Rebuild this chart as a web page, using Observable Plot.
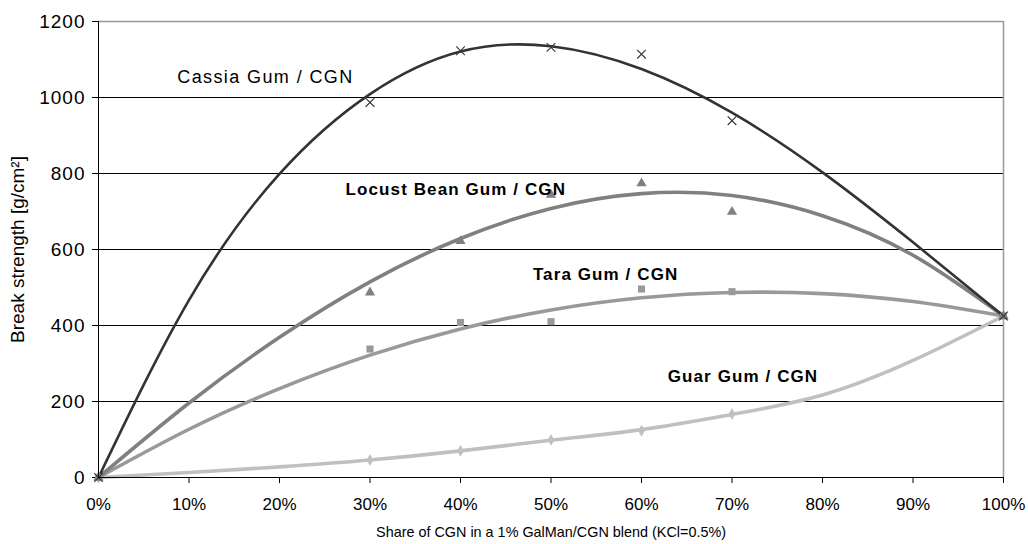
<!DOCTYPE html>
<html><head><meta charset="utf-8">
<script src="https://cdn.jsdelivr.net/npm/d3@7"></script>
<script src="https://cdn.jsdelivr.net/npm/@observablehq/plot@0.6"></script>
<style>body{margin:0;background:#fff;} svg{display:block}</style>
</head><body><div id="chart"></div>
<script>
// measured points (share of CGN %, break strength g/cm²)
const shares = [0, 30, 40, 50, 60, 70, 100];
const cassia = [0, 987, 1123, 1132, 1114, 939, 425];
const locust = [0, 487, 622, 744, 774, 699, 425];
const tara   = [0, 338, 408, 410, 496, 489, 425];
const guar   = [0, 46, 70, 99, 123, 167, 425];

// trend lines at 10% steps
const trendShares = [0, 10, 20, 30, 40, 50, 60, 70, 80, 90, 100];
const cassiaTrend = [0, 467, 799, 1009, 1121, 1135, 1075, 960, 803, 619, 425];
const locustTrend = [0, 196, 369, 515, 629, 708, 747, 742, 689, 585, 425];
const taraTrend   = [0, 127, 234, 322, 391, 441, 473, 487, 484, 463, 425];
const guarTrend   = [0, 13, 28, 46, 70, 98, 126, 166, 217, 308, 425];

const seriesNames = ["Cassia Gum / CGN", "Locust Bean Gum / CGN", "Tara Gum / CGN", "Guar Gum / CGN"];
const labelShare = [8.7, 27.3, 48.0, 62.9];
const labelValue = [1053, 757, 535, 265];

const xTicks = [0, 10, 20, 30, 40, 50, 60, 70, 80, 90, 100];
const yTicks = [0, 200, 400, 600, 800, 1000, 1200];
const gridY = [200, 400, 600, 800, 1000];
const xTitle = "Share of CGN in a 1% GalMan/CGN blend (KCl=0.5%)";
const yTitle = "Break strength [g/cm²]";

const pointSets = [cassia, locust, tara, guar];
const trendSets = [cassiaTrend, locustTrend, taraTrend, guarTrend];

const colors = ["#333333", "#808080", "#999999", "#c0c0c0"];
const widths = [2.6, 3.6, 3.6, 3.6];
const symbols = ["times", "triangle", "square", "diamond"];
const radii = [4, 3.8, 4, 3.6];

const trendRows = trendSets.map((arr, s) => arr.map((v, i) => ({s, x: trendShares[i], y: v})));
const pointRows = pointSets.map((arr, s) => arr.map((v, i) => ({s, x: shares[i], y: v})));
const labelRows = seriesNames.map((t, i) => ({t, x: labelShare[i], y: labelValue[i]}));

const lineMarks = [3, 2, 1, 0].map(s => Plot.line(trendRows[s], {x: "x", y: "y", curve: "natural", stroke: colors[s], strokeWidth: widths[s]}));
const dotMarks = [3, 2, 1, 0].map(s => s === 0
  ? Plot.dot(pointRows[s], {x: "x", y: "y", symbol: symbols[s], r: radii[s], stroke: colors[s], strokeWidth: 1.1})
  : Plot.dot(pointRows[s], {x: "x", y: "y", symbol: symbols[s], r: radii[s], fill: colors[s], stroke: "none"}));

const chart = Plot.plot({
  width: 1028, height: 544,
  marginLeft: 98, marginRight: 25, marginTop: 21, marginBottom: 67,
  style: {fontFamily: "'Liberation Sans', Arial, sans-serif", fontSize: "16px", color: "#000", background: "#fff"},
  x: {domain: [0, 100]},
  y: {domain: [0, 1200]},
  marks: [
    Plot.ruleY(gridY, {stroke: "#000", strokeWidth: 1}),
    Plot.ruleY([1200], {stroke: "#999", strokeWidth: 1.5}),
    Plot.ruleX([100], {stroke: "#999", strokeWidth: 1.5}),
    Plot.axisX({ticks: xTicks, tickFormat: d => d + "%", tickSize: 6, tickPadding: 14, fontSize: 17, label: null}),
    Plot.axisY({ticks: yTicks, tickFormat: d => String(d), tickSize: 6, tickPadding: 7, fontSize: 19, label: null}),
    Plot.text([xTitle], {frameAnchor: "bottom", dy: 59, fontSize: 14.4, text: d => d}),
    Plot.text([yTitle], {frameAnchor: "left", textAnchor: "middle", dx: -81, rotate: -90, fontSize: 19, text: d => d}),
    ...lineMarks,
    ...dotMarks,
    Plot.text(labelRows.slice(0, 1), {x: "x", y: "y", text: "t", textAnchor: "start", fontSize: 18, fill: "#000"}),
    Plot.text(labelRows.slice(1), {x: "x", y: "y", text: "t", textAnchor: "start", fontSize: 17, fontWeight: "bold", fill: "#000"}),
    Plot.ruleX([0], {stroke: "#000"}),
    Plot.ruleY([0], {stroke: "#000"})
  ]
});
// slightly wider lettering, as in the original rendering
d3.select(chart).selectAll("text").each(function() {
  const t = this.textContent;
  if (t === seriesNames[0]) this.style.letterSpacing = "1.4px";
  else if (seriesNames.includes(t)) this.style.letterSpacing = "1.1px";
});
d3.select(chart).selectAll("g[aria-label='y-axis tick label'] text").style("letter-spacing", "1px");
document.getElementById("chart").appendChild(chart);
</script>
</body></html>
